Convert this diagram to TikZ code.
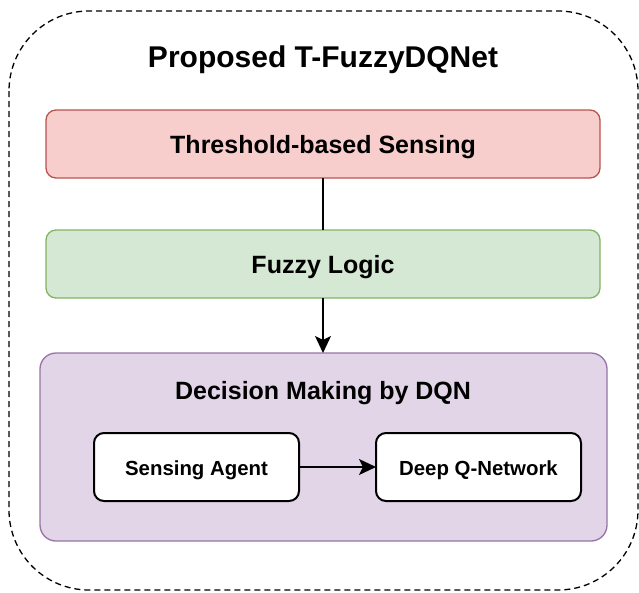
\documentclass[tikz,border=0pt]{standalone}
\usepackage{fontspec}
\setmainfont{Liberation Sans}
\usetikzlibrary{arrows.meta}
\definecolor{redfill}{HTML}{F8CECC}
\definecolor{redline}{HTML}{B85450}
\definecolor{greenfill}{HTML}{D5E8D4}
\definecolor{greenline}{HTML}{82B366}
\definecolor{purplefill}{HTML}{E1D5E7}
\definecolor{purpleline}{HTML}{9673A6}
\tikzset{
  box/.style={draw, rounded corners=10pt, line width=1.3pt, inner sep=0pt, outer sep=0pt},
  lbl/.style={font=\bfseries\fontsize{25}{30}\selectfont, inner sep=0pt},
  small/.style={font=\bfseries\fontsize{20.4}{24}\selectfont, inner sep=0pt},
  conn/.style={line width=1.3pt},
  arr/.style={conn, -{Stealth[length=17pt,width=16pt,inset=4pt]}}
}
\begin{document}
\begin{tikzpicture}[x=1pt,y=-1pt]
\useasboundingbox (0,0) rectangle (639,592);
\draw[dash pattern=on 6pt off 4pt, line width=1.3pt, rounded corners=80pt] (9,11) rectangle (638,590);
\node[lbl, font=\bfseries\fontsize{30}{36}\selectfont] (title) at (323,60) {Proposed T-FuzzyDQNet};
\node[box, fill=redfill, draw=redline, minimum width=554pt, minimum height=68pt] (ts) at (323,144) {};
\node[lbl] (tst) at (323,147) {Threshold-based Sensing};
\node[box, fill=greenfill, draw=greenline, minimum width=554pt, minimum height=68pt] (fl) at (323,264) {};
\node[lbl] (flt) at (323,267) {Fuzzy Logic};
\node[box, fill=purplefill, draw=purpleline, minimum width=567pt, minimum height=188pt, rounded corners=16pt] (dm) at (323.5,447) {};
\node[lbl] (dmt) at (323,393) {Decision Making by DQN};
\node[box, fill=white, draw=black, line width=2pt, minimum width=205pt, minimum height=68pt] (sa) at (196.5,467) {};
\node[small] (sat) at (196.5,470) {Sensing Agent};
\node[box, fill=white, draw=black, line width=2pt, minimum width=205pt, minimum height=68pt] (dq) at (478.5,467) {};
\node[small] (dqt) at (478.5,470) {Deep Q-Network};
\draw[conn] (ts.south) -- (fl.north);
\draw[arr] (fl.south) -- (dm.north -| fl.south);
\draw[arr] (sa.east) -- (dq.west);
\end{tikzpicture}
\end{document}
